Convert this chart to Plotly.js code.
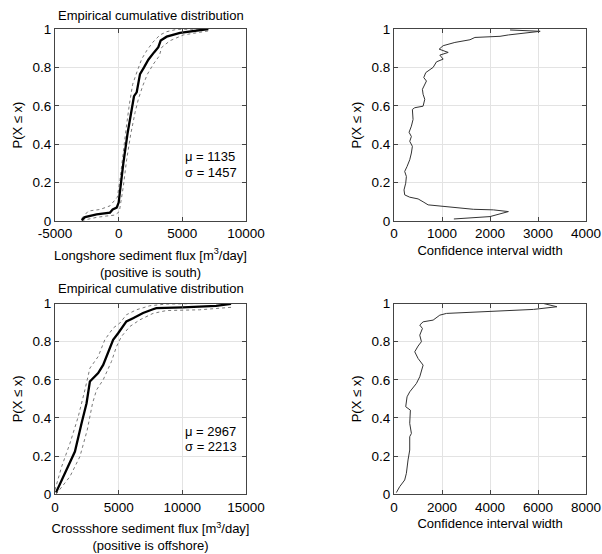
<!DOCTYPE html>
<html>
<head>
<meta charset="utf-8">
<script src="https://cdn.plot.ly/plotly-3.0.1.min.js"></script>
<style>html,body{margin:0;padding:0;background:#fff;}#chart{width:602px;height:554px;}</style>
</head>
<body>
<div id="chart"></div>
<script>
// ---- Longshore ECDF (top-left) ----
const longX = [-2906,-2644,-1730,-680,-470,-157,0,105,366,707,1021,1204,1414,1675,1990,2330,2775,3115,3298,3770,4817,5864,7042];
const longP = [0.005,0.02,0.035,0.044,0.06,0.07,0.096,0.155,0.30,0.46,0.57,0.65,0.67,0.765,0.80,0.84,0.878,0.905,0.94,0.96,0.98,0.99,1.0];
const longUpX = [-2906,-2380,-1466,-680,-288,-105,105,314,576,838,1099,1466,1806,2199,2670,3246,3770,4555,7042];
const longUpP = [0.014,0.052,0.06,0.079,0.11,0.124,0.215,0.337,0.476,0.607,0.712,0.782,0.843,0.887,0.93,0.969,0.986,0.998,1.0];
const longLoX = [-2906,-1730,-942,-288,52,157,366,628,942,1283,1545,1885,2251,2723,3194,3377,4031,5079,6387,7042];
const longLoP = [0.002,0.019,0.026,0.031,0.049,0.092,0.18,0.32,0.45,0.564,0.634,0.703,0.764,0.817,0.86,0.904,0.939,0.969,0.983,0.99];

// ---- Longshore CI width (top-right) ----
const longCiW = [1247,2000,2383,2070,1652,1094,711,606,502,328,223,209,244,258,223,272,328,362,383,328,362,314,362,397,383,432,606,641,606,592,641,676,620,662,815,885,1024,955,1129,941,1024,1268,1582,1686,2209,2383,3045,2418];
const longCiP = [0.0105,0.023,0.049,0.058,0.061,0.075,0.084,0.10,0.115,0.124,0.136,0.162,0.197,0.232,0.258,0.284,0.319,0.354,0.389,0.415,0.44,0.462,0.494,0.529,0.581,0.59,0.598,0.634,0.66,0.686,0.707,0.729,0.747,0.773,0.80,0.829,0.843,0.864,0.878,0.895,0.913,0.93,0.944,0.956,0.962,0.969,0.988,0.995];

// ---- Crossshore ECDF (bottom-left) ----
const crossX = [78,913,1565,2087,2478,2739,3000,3391,3783,4174,4565,4957,5348,5609,6130,6913,7696,7957,10043,12652,13826];
const crossP = [0.009,0.128,0.224,0.372,0.477,0.591,0.608,0.635,0.678,0.74,0.81,0.844,0.879,0.906,0.923,0.95,0.97,0.976,0.98,0.988,0.998];
const crossUpX = [0,522,1174,1826,2348,2739,3391,3913,4565,5087,5609,6391,7435,8739,11348,13826];
const crossUpP = [0.023,0.145,0.267,0.407,0.547,0.661,0.722,0.81,0.871,0.897,0.941,0.967,0.988,0.997,1.0,1.0];
const crossLoX = [78,1174,1957,2530,2948,3261,3783,4435,4826,5217,5870,6652,7696,8739,11348,13826];
const crossLoP = [0.0,0.093,0.198,0.337,0.477,0.547,0.6,0.696,0.774,0.827,0.879,0.914,0.948,0.963,0.967,0.98];

// ---- Crossshore CI width (bottom-right) ----
const crossCiW = [98,237,446,516,585,655,655,725,655,683,488,544,655,934,1073,1185,1213,1003,864,1003,1143,1073,1185,1073,1213,1631,1909,2188,5812,6788,6230];
const crossCiP = [0.009,0.04,0.075,0.11,0.18,0.232,0.302,0.319,0.372,0.441,0.459,0.511,0.537,0.581,0.616,0.66,0.677,0.712,0.747,0.777,0.80,0.834,0.869,0.887,0.904,0.913,0.939,0.948,0.969,0.983,1.0];

// ---- ticks and text ----
const longTickVals = [-5000,0,5000,10000];
const longTickText = ["-5000","0","5000","10000"];
const crossTickVals = [0,5000,10000,15000];
const crossTickText = ["0","5000","10000","15000"];
const longCiTickVals = [0,1000,2000,3000,4000];
const longCiTickText = ["0","1000","2000","3000","4000"];
const crossCiTickVals = [0,2000,4000,6000,8000];
const crossCiTickText = ["0","2000","4000","6000","8000"];
const probTickVals = [0,0.2,0.4,0.6,0.8,1];
const probTickText = ["0","0.2","0.4","0.6","0.8","1"];
const panelTitle = "Empirical cumulative distribution";
const yTitle = "P(X \u2264 x)";
const longXTitle = "Longshore sediment flux [m<sup>3</sup>/day]<br>(positive is south)";
const crossXTitle = "Crossshore sediment flux [m<sup>3</sup>/day]<br>(positive is offshore)";
const ciXTitle = "Confidence interval width";
const longStats = ["\u03bc = 1135", "\u03c3 = 1457"];
const crossStats = ["\u03bc = 2967", "\u03c3 = 2213"];

const FONT = "Liberation Sans, Arial, sans-serif";
const mainLine = {color:'#000', width:2.3};
const boundLine = {color:'#6a6a6a', width:0.9, dash:'dot'};
const ciLine = {color:'#333', width:1};

const traces = [
  {x:longUpX, y:longUpP, xaxis:'x', yaxis:'y', mode:'lines', line:boundLine},
  {x:longLoX, y:longLoP, xaxis:'x', yaxis:'y', mode:'lines', line:boundLine},
  {x:longX, y:longP, xaxis:'x', yaxis:'y', mode:'lines', line:mainLine},
  {x:longCiW, y:longCiP, xaxis:'x2', yaxis:'y2', mode:'lines', line:ciLine},
  {x:crossUpX, y:crossUpP, xaxis:'x3', yaxis:'y3', mode:'lines', line:boundLine},
  {x:crossLoX, y:crossLoP, xaxis:'x3', yaxis:'y3', mode:'lines', line:boundLine},
  {x:crossX, y:crossP, xaxis:'x3', yaxis:'y3', mode:'lines', line:mainLine},
  {x:crossCiW, y:crossCiP, xaxis:'x4', yaxis:'y4', mode:'lines', line:ciLine}
];

function xa(domain, range, tv, tt, title, anchor, standoff) {
  return {domain:domain, range:range, anchor:anchor, tickvals:tv, ticktext:tt, showgrid:true, gridcolor:'#e3e3e3', gridwidth:1,
    zeroline:false, showline:true, linecolor:'#444', linewidth:1, mirror:'ticks', ticks:'inside', ticklen:4, tickcolor:'#444',
    tickfont:{family:FONT, size:13.5, color:'#000'}, automargin:false,
    title:{text:title, font:{family:FONT, size:13, color:'#000'}, standoff:standoff}};
}
function ya(domain, anchor) {
  return {domain:domain, range:[0,1], anchor:anchor, tickvals:probTickVals, ticktext:probTickText, showgrid:true, gridcolor:'#e3e3e3',
    zeroline:false, showline:true, linecolor:'#444', linewidth:1, mirror:'ticks', ticks:'inside', ticklen:4, tickcolor:'#444',
    tickfont:{family:FONT, size:13.5, color:'#000'}, automargin:false,
    title:{text:yTitle, font:{family:FONT, size:13, color:'#000'}, standoff:6}};
}

const dL = [55/602, 246/602], dR = [394/602, 586/602];
const dT = [1-221/554, 1-29/554], dB = [1-494.3/554, 1-303.5/554];

function ann(text, x, y, xref, yref, opts) {
  return Object.assign({text:text, x:x, y:y, xref:xref, yref:yref, showarrow:false,
    font:{family:FONT, size:13, color:'#000'}}, opts||{});
}

const layout = {
  width:602, height:554, margin:{l:0,r:0,t:0,b:0}, showlegend:false,
  paper_bgcolor:'#fff', plot_bgcolor:'#fff',
  xaxis: xa(dL, [-5000,10000], longTickVals, longTickText, longXTitle, 'y', 10),
  yaxis: ya(dT, 'x'),
  xaxis2: xa(dR, [0,4000], longCiTickVals, longCiTickText, ciXTitle, 'y2', 5),
  yaxis2: ya(dT, 'x2'),
  xaxis3: xa(dL, [0,15000], crossTickVals, crossTickText, crossXTitle, 'y3', 10),
  yaxis3: ya(dB, 'x3'),
  xaxis4: xa(dR, [0,8000], crossCiTickVals, crossCiTickText, ciXTitle, 'y4', 5),
  yaxis4: ya(dB, 'x4'),
  annotations: [
    ann(panelTitle, 150.5/602, 1-15/554, 'paper', 'paper', {xanchor:'center', yanchor:'middle'}),
    ann(panelTitle, 150.5/602, 1-288/554, 'paper', 'paper', {xanchor:'center', yanchor:'middle'}),
    ann(longStats[0], 5050, 0.335, 'x', 'y', {xanchor:'left', yanchor:'middle'}),
    ann(longStats[1], 5050, 0.25, 'x', 'y', {xanchor:'left', yanchor:'middle'}),
    ann(crossStats[0], 10050, 0.331, 'x3', 'y3', {xanchor:'left', yanchor:'middle'}),
    ann(crossStats[1], 10050, 0.248, 'x3', 'y3', {xanchor:'left', yanchor:'middle'})
  ]
};

Plotly.newPlot('chart', traces, layout, {displayModeBar:false, staticPlot:true});
</script>
</body>
</html>
